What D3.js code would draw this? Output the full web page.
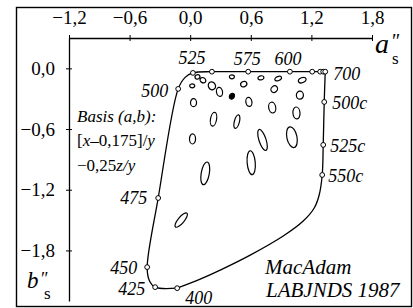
<!doctype html>
<html lang="en">
<head>
<meta charset="utf-8" />
<title>MacAdam LABJNDS 1987</title>
<script src="https://d3js.org/d3.v7.min.js"></script>
<style>
  body { margin: 0; background: #fff; }
</style>
</head>
<body>
<script>
// axis ticks
var xTicks = [-1.2, -0.6, 0.0, 0.6, 1.2, 1.8];
var yTicks = [0.0, -0.6, -1.2, -1.8];

// spectral line (nm); null = shape point without a sample circle
var specNm = [400, 425, null, 450, 475, 500, null, 525, 550, 575, 600, 625, 650, 675, 700];
var specA = [-0.129, -0.347, -0.406, -0.426, -0.317, -0.119, -0.050, 0.027, 0.215, 0.574, 0.987, 1.208, 1.287, 1.317, 1.337];
var specB = [-2.173, -2.163, -2.094, -1.965, -1.282, -0.203, -0.089, -0.045, -0.033, -0.033, -0.033, -0.033, -0.033, -0.033, -0.033];

// purple line from 700 back to 400
var purpNm = ["700", "500c", "525c", "550c", null, null, null, null, null, null, null, "400"];
var purpA = [1.337, 1.327, 1.317, 1.307, 1.277, 1.228, 1.119, 0.921, 0.594, 0.297, 0.099, -0.129];
var purpB = [-0.033, -0.332, -0.757, -1.054, -1.252, -1.381, -1.510, -1.658, -1.847, -1.995, -2.084, -2.173];

var labelled = ["400", "425", "450", "475", "500", "525", "575", "600", "700", "500c", "525c", "550c"];

// threshold ellipses: centre (a,b), semi-axes, rotation (deg)
var ellA = [0.020, 0.072, 0.126, 0.215, 0.290, 0.413, 0.413, 0.530, 0.033, 0.700, 0.871, 1.109, 0.832, 1.086, 0.581, 0.812, 1.052, 0.231, 0.462, 0.023, 0.716, 1.007, 0.604, 0.149, -0.089];
var ellB = [-0.173, -0.084, -0.117, -0.173, -0.233, -0.084, -0.275, -0.156, -0.339, -0.094, -0.101, -0.117, -0.206, -0.265, -0.332, -0.388, -0.441, -0.503, -0.527, -0.698, -0.708, -0.681, -0.933, -1.038, -1.500];
var ellRa = [0.025, 0.025, 0.030, 0.035, 0.030, 0.025, 0.024, 0.032, 0.030, 0.030, 0.035, 0.040, 0.035, 0.035, 0.030, 0.035, 0.035, 0.030, 0.025, 0.030, 0.035, 0.050, 0.040, 0.040, 0.030];
var ellRb = [0.020, 0.022, 0.025, 0.040, 0.045, 0.020, 0.030, 0.026, 0.040, 0.020, 0.020, 0.025, 0.030, 0.040, 0.045, 0.054, 0.059, 0.069, 0.069, 0.050, 0.109, 0.104, 0.119, 0.114, 0.089];
var ellAng = [0, -30, 30, -30, -10, 0, 30, -30, 0, -10, -20, -20, -40, 0, -10, -10, -5, 10, 15, 0, -18, -12, -5, 10, 40];
var ellFilled = [false, false, false, false, false, false, true, false, false, false, false, false, false, false, false, false, false, false, false, false, false, false, false, false, false];

var w = 413, h = 308;
var serif = "'Liberation Serif', 'Times New Roman', serif";
var svg = d3.select("body").append("svg").attr("width", w).attr("height", h);

var x = d3.scaleLinear().domain([-1.2, 1.8]).range([69, 372]);
var y = d3.scaleLinear().domain([0.3, -2.3]).range([38, 301]);
var unit = x(1) - x(0);

var fmt = d3.formatLocale({decimal: ",", thousands: ".", grouping: [3], currency: ["", ""], minus: "\u2212"}).format(".1f");

// helper: serif text element
function txt(px, py, size, italic, s) {
  return svg.append("text").attr("x", px).attr("y", py)
    .style("font-family", serif).style("font-size", size + "px")
    .style("font-style", italic ? "italic" : "normal")
    .attr("fill", "#000").text(s);
}

// outer frame
svg.append("rect")
  .attr("x", 16.5).attr("y", 7.5)
  .attr("width", 395).attr("height", 299)
  .attr("fill", "none").attr("stroke", "#000").attr("stroke-width", 1.4);

// axes
var gx = svg.append("g").attr("transform", "translate(0," + y(0.3) + ")")
  .call(d3.axisTop(x).tickValues(xTicks).tickFormat(fmt).tickSizeOuter(0).tickPadding(8));
var gy = svg.append("g").attr("transform", "translate(" + x(-1.2) + ",0)")
  .call(d3.axisLeft(y).tickValues(yTicks).tickFormat(fmt).tickSizeOuter(0).tickPadding(8));
[gx, gy].forEach(function(g) {
  g.attr("font-family", null).attr("font-size", null);
  g.select(".domain").attr("stroke-width", 1.3);
  g.selectAll("text").style("font-family", serif).style("font-size", "19px");
});
gx.selectAll(".tick line").attr("y1", -3).attr("y2", 3);
gy.selectAll(".tick line").attr("x1", -3).attr("x2", 3);

// axis names
txt(375, 53, 28, true, "a");
txt(392, 48, 20, false, "\u2033");
txt(392, 64, 17, false, "s");

txt(27, 288, 23, true, "b");
txt(41, 285, 18, false, "\u2033");
txt(44, 299, 17, false, "s");

// lines
var line = d3.line()
  .x(function(d) { return x(d.a); })
  .y(function(d) { return y(d.b); })
  .curve(d3.curveCatmullRom.alpha(0.5));

var spec = specNm.map(function(n, i) { return {nm: n === null ? null : String(n), a: specA[i], b: specB[i]}; });
var purp = purpNm.map(function(n, i) { return {nm: n, a: purpA[i], b: purpB[i]}; });

svg.append("path").datum(spec).attr("d", line)
  .attr("fill", "none").attr("stroke", "#000").attr("stroke-width", 1.3);
svg.append("path").datum(purp).attr("d", line)
  .attr("fill", "none").attr("stroke", "#000").attr("stroke-width", 1.3);

// ellipses
var ells = ellA.map(function(a, i) {
  return {a: a, b: ellB[i], ra: ellRa[i], rb: ellRb[i], ang: ellAng[i], filled: ellFilled[i]};
});
svg.selectAll("ellipse.jnd").data(ells).enter().append("ellipse")
  .attr("class", "jnd")
  .attr("cx", 0).attr("cy", 0)
  .attr("rx", function(d) { return d.ra * unit; })
  .attr("ry", function(d) { return d.rb * unit; })
  .attr("transform", function(d) { return "translate(" + x(d.a) + "," + y(d.b) + ") rotate(" + d.ang + ")"; })
  .attr("fill", function(d) { return d.filled ? "#000" : "none"; })
  .attr("stroke", "#000").attr("stroke-width", 1.2);

// sample circles
var pts = spec.concat(purp.slice(1, 4)).filter(function(d) { return d.nm !== null; });
svg.selectAll("circle.pt").data(pts).enter().append("circle")
  .attr("class", "pt")
  .attr("cx", function(d) { return x(d.a); })
  .attr("cy", function(d) { return y(d.b); })
  .attr("r", 2.4)
  .attr("fill", "#fff").attr("stroke", "#000").attr("stroke-width", 1);

// wavelength labels
var off = {
  "400": [8, 16, "start"], "425": [-10, 8, "end"], "450": [-10, 7, "end"], "475": [-11, 6, "end"],
  "500": [-10, 8, "end"], "525": [-1, -9, "middle"], "575": [-1, -7, "middle"], "600": [-2, -7, "middle"],
  "700": [8, 8, "start"], "500c": [8, 7, "start"], "525c": [7, 7, "start"], "550c": [6, 7, "start"]
};
var lab = pts.filter(function(d) { return labelled.indexOf(d.nm) >= 0; });
svg.selectAll("text.nm").data(lab).enter().append("text")
  .attr("class", "nm")
  .attr("x", function(d) { return x(d.a) + off[d.nm][0]; })
  .attr("y", function(d) { return y(d.b) + off[d.nm][1]; })
  .attr("text-anchor", function(d) { return off[d.nm][2]; })
  .style("font-family", serif).style("font-size", "18px").style("font-style", "italic")
  .text(function(d) { return d.nm; });

// basis note
txt(77, 122, 17, true, "Basis (a,b):");
var t2 = txt(77, 146, 17, false, "");
t2.append("tspan").text("[");
t2.append("tspan").style("font-style", "italic").text("x");
t2.append("tspan").text("\u20130,175]/");
t2.append("tspan").style("font-style", "italic").text("y");
var t3 = txt(77, 171, 17, false, "");
t3.append("tspan").text("\u22120,25");
t3.append("tspan").style("font-style", "italic").text("z/y");

txt(265, 274, 21, true, "MacAdam");
txt(266, 297, 21, true, "LABJNDS 1987");
</script>
</body>
</html>
